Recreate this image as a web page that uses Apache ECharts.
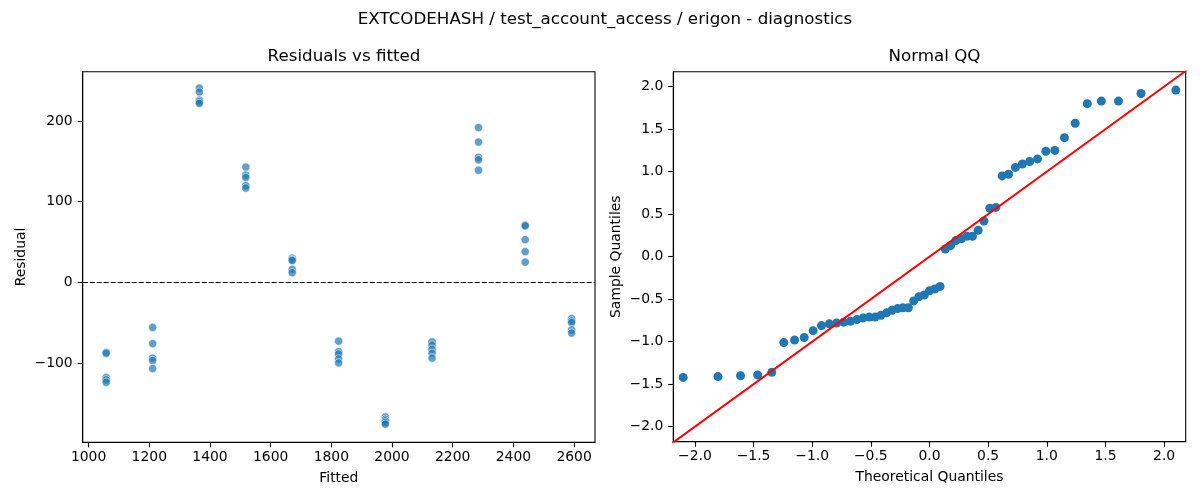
<!DOCTYPE html>
<html>
<head>
<meta charset="utf-8">
<script src="https://cdn.jsdelivr.net/npm/echarts@6/dist/echarts.min.js"></script>
<style>
html,body{margin:0;padding:0;background:#fff;}
#chart{width:1200px;height:500px;}
</style>
</head>
<body>
<div id="chart"></div>
<script>
// ---- data ----
var fittedLevels = [1058, 1211, 1365, 1518, 1671, 1824, 1978, 2132, 2285, 2439, 2592];
var residualGroups = [
  [-87, -88, -118, -121, -124],
  [-56, -76, -94, -97, -107],
  [241, 236, 226, 224, 222],
  [143, 133, 130, 120, 117],
  [30, 28, 27, 16, 12],
  [-73, -86, -89, -95, -100],
  [-167, -170, -172, -174, -176],
  [-74, -78, -83, -88, -94],
  [192, 174, 155, 152, 139],
  [71, 70, 53, 38, 25],
  [-45, -48, -50, -59, -63]
];
var qqTheoretical = [-2.100,-1.803,-1.611,-1.465,-1.345,-1.242,-1.150,-1.068,-0.992,-0.921,-0.854,-0.792,-0.732,-0.674,-0.619,-0.566,-0.514,-0.464,-0.415,-0.366,-0.319,-0.272,-0.226,-0.180,-0.135,-0.090,-0.045,0,
  0.045,0.090,0.135,0.180,0.226,0.272,0.319,0.366,0.415,0.464,0.514,0.566,0.619,0.674,0.732,0.792,0.854,0.921,0.992,1.068,1.150,1.242,1.345,1.465,1.611,1.803,2.100];
var qqSample = [-1.42,-1.41,-1.40,-1.39,-1.36,-1.01,-0.98,-0.95,-0.87,-0.81,-0.79,-0.78,-0.77,-0.76,-0.74,-0.72,-0.71,-0.71,-0.69,-0.66,-0.63,-0.61,-0.60,-0.60,-0.52,-0.47,-0.45,-0.40,-0.38,-0.35,
  0.09,0.13,0.19,0.21,0.24,0.24,0.31,0.42,0.57,0.58,0.95,0.97,1.05,1.09,1.12,1.15,1.24,1.25,1.40,1.57,1.80,1.83,1.83,1.92,1.96];
var qqLine = [-2.5, 2.5];
var fittedTicks = [1000, 1200, 1400, 1600, 1800, 2000, 2200, 2400, 2600];
var residualTicks = [-100, 0, 100, 200];
var qqTicks = [-2.0, -1.5, -1.0, -0.5, 0.0, 0.5, 1.0, 1.5, 2.0];
var titles = ['EXTCODEHASH / test_account_access / erigon - diagnostics', 'Residuals vs fitted', 'Normal QQ'];

// ---- build series data ----
var residData = [];
fittedLevels.forEach(function (f, i) {
  residualGroups[i].forEach(function (r) { residData.push([f, r]); });
});
var qqData = qqTheoretical.map(function (x, i) { return [x, qqSample[i]]; });
var lineData = qqLine.map(function (v) { return [v, v]; });

var FONT = 'DejaVu Sans';
var TICK = 13.9;
function minus(s) { return String(s).replace('-', '\u2212'); }

function axisCommon(ticks, fmt, isX) {
  return {
    type: 'value',
    axisLine: { show: true, onZero: false, lineStyle: { color: '#000', width: 1.1 } },
    axisTick: { show: true, inside: false, length: 5, customValues: ticks, lineStyle: { color: '#000', width: 1.1 } },
    axisLabel: { show: true, customValues: ticks, margin: isX ? 8 : 10, color: '#000', fontSize: TICK, fontFamily: FONT, formatter: fmt },
    splitLine: { show: false },
    nameTextStyle: { color: '#000', fontSize: TICK, fontFamily: FONT },
    nameLocation: 'middle'
  };
}

var chart = echarts.init(document.getElementById('chart'), null, { renderer: 'canvas' });
var fmtInt = function (v) { return minus(v); };
var fmt1 = function (v) { return minus(v.toFixed(1)); };

var x0 = axisCommon(fittedTicks, fmtInt, true);
Object.assign(x0, { gridIndex: 0, min: 980.5, max: 2669, name: 'Fitted', nameGap: 29 });
var y0 = axisCommon(residualTicks, fmtInt, false);
Object.assign(y0, { gridIndex: 0, min: -198.5, max: 261.3, name: 'Residual', nameGap: 54, nameRotate: 90 });
var x1 = axisCommon(qqTicks, fmt1, true);
Object.assign(x1, { gridIndex: 1, min: -2.184, max: 2.184, name: 'Theoretical Quantiles', nameGap: 29 });
var y1 = axisCommon(qqTicks, fmt1, false);
Object.assign(y1, { gridIndex: 1, min: -2.176, max: 2.176, name: 'Sample Quantiles', nameGap: 50, nameRotate: 90 });

var titleStyle = { color: '#000', fontSize: 16.7, fontWeight: 'normal', fontFamily: FONT };

chart.setOption({
  animation: false,
  backgroundColor: '#fff',
  title: [
    { text: titles[0], left: 600, top: 6, textAlign: 'center', textStyle: titleStyle },
    { text: titles[1], left: 339, top: 43, textAlign: 'center', textStyle: titleStyle },
    { text: titles[2], left: 929.5, top: 43, textAlign: 'center', textStyle: titleStyle }
  ],
  grid: [
    { left: 82.7, top: 71.7, width: 512.3, height: 370.6, show: true, borderColor: '#000', borderWidth: 1.1, backgroundColor: 'transparent' },
    { left: 673.3, top: 71.7, width: 512.4, height: 370.0, show: true, borderColor: '#000', borderWidth: 1.1, backgroundColor: 'transparent' }
  ],
  xAxis: [x0, x1],
  yAxis: [y0, y1],
  series: [
    {
      type: 'scatter', xAxisIndex: 0, yAxisIndex: 0, data: residData,
      symbol: 'circle', symbolSize: 8.3,
      itemStyle: { color: '#1f77b4', opacity: 0.7, borderColor: '#ffffff', borderWidth: 0.8 },
      markLine: {
        silent: true, symbol: 'none', label: { show: false },
        lineStyle: { color: '#000', width: 1.1, type: [5, 2] },
        data: [{ yAxis: 0 }]
      },
      z: 2
    },
    {
      type: 'scatter', xAxisIndex: 1, yAxisIndex: 1, data: qqData,
      symbol: 'circle', symbolSize: 9,
      itemStyle: { color: '#1f77b4', opacity: 1 },
      z: 2
    },
    {
      type: 'line', xAxisIndex: 1, yAxisIndex: 1, data: lineData,
      symbol: 'none', clip: true,
      lineStyle: { color: '#ff0000', width: 2 },
      z: 3
    }
  ]
});
</script>
</body>
</html>
